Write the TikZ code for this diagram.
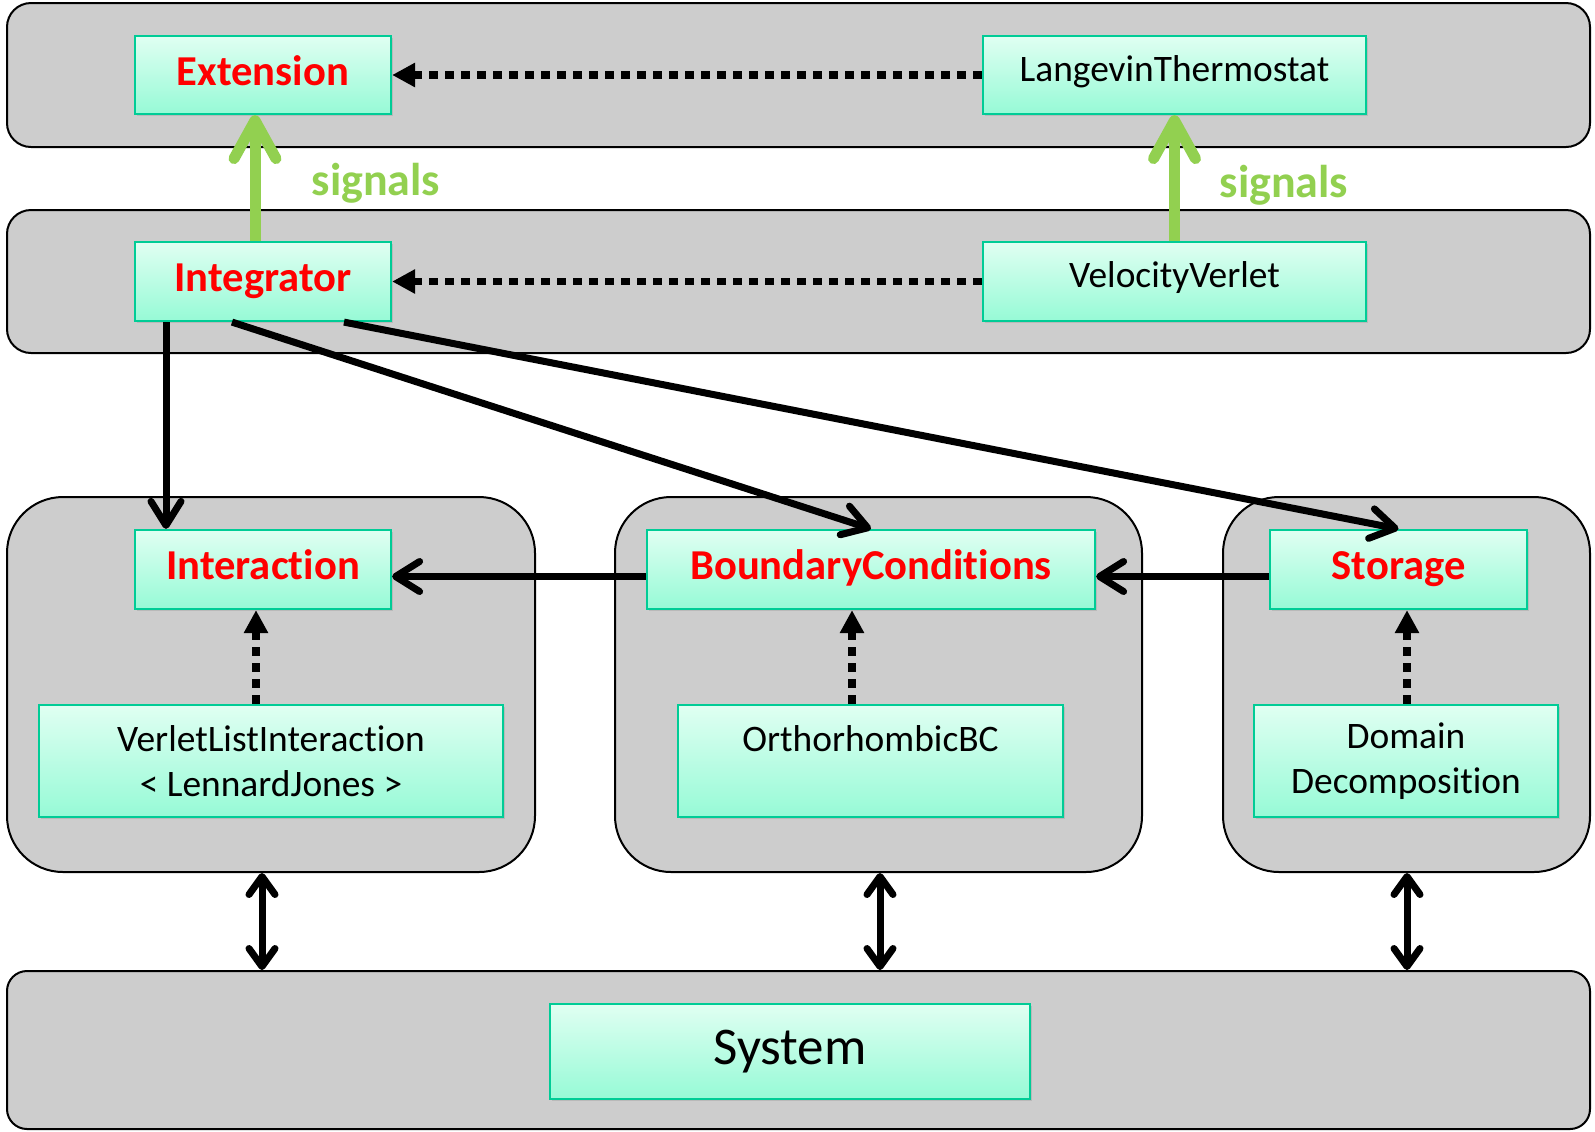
\documentclass[tikz,border=0pt]{standalone}
\usepackage{fontspec}
\setmainfont{Carlito}[Ligatures={NoCommon}]
\usetikzlibrary{arrows.meta,shadows}

\definecolor{bandgray}{RGB}{205,205,205}
\definecolor{boxtop}{RGB}{224,255,242}
\definecolor{boxbot}{RGB}{150,250,214}
\definecolor{boxline}{RGB}{0,204,150}
\definecolor{signalgreen}{RGB}{146,208,80}
\definecolor{basered}{RGB}{255,0,0}

\begin{document}
\begin{tikzpicture}[x=0.5pt, y=-0.5pt,
    band/.style={draw=black, line width=1pt, fill=bandgray, rounded corners=12pt, inner sep=0pt},
    group/.style={band, rounded corners=28pt},
    cls/.style={draw=boxline, line width=1.1pt, top color=boxtop, bottom color=boxbot, inner sep=0pt,
      align=center, font=\fontsize{18.7}{22.5}\selectfont,
      drop shadow={shadow xshift=1.2pt, shadow yshift=-1.2pt, opacity=0.25}},
    single/.style={text height=14pt, text depth=8pt},
    base/.style={cls, text=basered, font=\fontsize{21.3}{25}\selectfont\bfseries, text height=14.5pt, text depth=4.5pt},
    uses/.style={-{Straight Barb[length=12pt, width=15pt, round]}, line width=3.5pt},
    impl/.style={-{Triangle[length=11.5pt, width=11.5pt]}, line width=3.7pt, dash pattern=on 4.3pt off 3.7pt},
    signal/.style={-{Straight Barb[length=19pt, width=21pt, round]}, line width=5.5pt, draw=signalgreen},
    both/.style={{Straight Barb[length=9pt, width=13pt, round]}-{Straight Barb[length=9pt, width=13pt, round]}, line width=3.5pt}
  ]
  \useasboundingbox (0,0) rectangle (1595,1131);

  % Layers
  \node[band, minimum width=791.5pt, minimum height=72pt] (extband) at (798.5,75) {};
  \node[band, minimum width=791.5pt, minimum height=71.5pt] (intband) at (798.5,281.5) {};
  \node[group, minimum width=264pt, minimum height=187.5pt] (lgrp) at (271,684.5) {};
  \node[group, minimum width=263.5pt, minimum height=187.5pt] (mgrp) at (878.5,684.5) {};
  \node[group, minimum width=183.5pt, minimum height=187.5pt] (rgrp) at (1406.5,684.5) {};
  \node[band, rounded corners=10pt, minimum width=791.5pt, minimum height=79pt] (sysband) at (798.5,1050) {};

  % Classes
  \node[base, minimum width=128pt, minimum height=39pt] (ext) at (263,75) {Extension};
  \node[cls, single, minimum width=191.5pt, minimum height=39pt] (lang) at (1174.5,75) {LangevinThermostat};
  \node[base, minimum width=128pt, minimum height=39.5pt] (integ) at (263,281.5) {Integrator};
  \node[cls, single, minimum width=191.5pt, minimum height=39.5pt] (vv) at (1174.5,281.5) {VelocityVerlet};
  \node[base, minimum width=128pt, minimum height=39.5pt] (inter) at (263,569.5) {Interaction};
  \node[base, minimum width=224pt, minimum height=39.5pt] (bc) at (871,569.5) {BoundaryConditions};
  \node[base, minimum width=128.5pt, minimum height=39.5pt] (stor) at (1398.5,569.5) {Storage};
  \node[cls, minimum width=232pt, minimum height=56pt] (vli) at (271,761) {VerletListInteraction\\ < LennardJones >};
  \node[cls, minimum width=192.5pt, minimum height=56pt] (ortho) at (870.5,761) {OrthorhombicBC\\ \mbox{}};
  \node[cls, minimum width=152pt, minimum height=56pt] (dd) at (1406,761) {Domain\\ Decomposition};
  \node[cls, font=\fontsize{26.5}{31}\selectfont, minimum width=240pt, minimum height=47.5pt] (sys) at (790,1051.5) {System};

  % Implementations
  \draw[impl] (lang.west) -- (ext.east);
  \draw[impl] (vv.west) -- (integ.east);
  \draw[impl] ([xshift=-7.5pt]vli.north) -- ([xshift=-3.5pt]inter.south);
  \draw[impl] ([xshift=-9.25pt]ortho.north) -- ([xshift=-9.5pt]bc.south);
  \draw[impl] ([xshift=0.5pt]dd.north) -- ([xshift=4.25pt]stor.south);

  % Signals
  \draw[signal] ([xshift=-4pt]integ.north) -- ([xshift=-4pt]ext.south);
  \draw[signal] (vv.north) -- (lang.south);
  \node[font=\fontsize{23}{27}\selectfont\bfseries, text=signalgreen] (sigl) at (376,183) {signals};
  \node[font=\fontsize{23}{27}\selectfont\bfseries, text=signalgreen] (sigr) at (1284,185) {signals};

  % Uses
  \draw[uses] ([xshift=-48.5pt]integ.south) -- ([xshift=-48.5pt]inter.north);
  \draw[uses] ([xshift=-15.5pt]integ.south) -- (bc.north);
  \draw[uses] ([xshift=40.5pt]integ.south) -- (stor.north);
  \draw[uses] ([yshift=-3.5pt]bc.west) -- ([yshift=-3.5pt]inter.east);
  \draw[uses] ([yshift=-3.5pt]stor.west) -- ([yshift=-3.5pt]bc.east);

  % System links
  \foreach \g/\dx in {lgrp/-4.5, mgrp/0.75, rgrp/0.25} {
      \draw[both] ([xshift=\dx pt]\g.south) -- ([xshift=\dx pt]\g.south |- sysband.north);
    }

\end{tikzpicture}
\end{document}
